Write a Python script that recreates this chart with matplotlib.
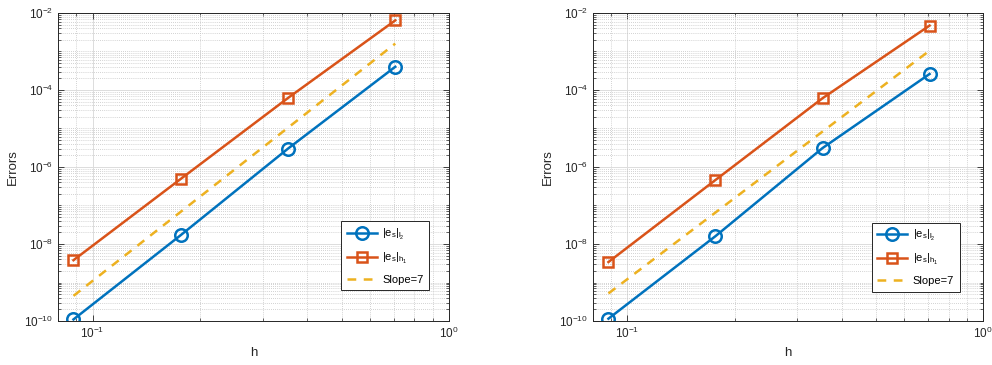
import numpy as np
import matplotlib
matplotlib.use("Agg")
import matplotlib.pyplot as plt
from matplotlib.ticker import LogLocator, FixedLocator, NullFormatter, LogFormatterMathtext

plt.rcParams['font.family'] = ['Liberation Sans', 'DejaVu Sans']
plt.rcParams['mathtext.fontset'] = 'custom'
plt.rcParams['mathtext.rm'] = 'Liberation Sans'
plt.rcParams['mathtext.it'] = 'Liberation Sans'

# Data
h = [0.0884, 0.1768, 0.3536, 0.7071]
left_l2 = [1.1e-10, 1.7e-8, 3.0e-6, 4.0e-4]
left_h1 = [3.8e-9, 4.9e-7, 6.2e-5, 6.4e-3]
left_slope_h = [0.0884, 0.7071]
left_slope = [4.5e-10, 1.6e-3]

right_l2 = [1.15e-10, 1.6e-8, 3.1e-6, 2.6e-4]
right_h1 = [3.4e-9, 4.6e-7, 6.1e-5, 4.7e-3]
right_slope_h = [0.0884, 0.7071]
right_slope = [5.2e-10, 1.05e-3]

labels = [r'$|e_s|_{l_2}$', r'$|e_s|_{h_1}$', 'Slope=7']
yticks = [1e-10, 1e-8, 1e-6, 1e-4, 1e-2]
xticks = [1e-1, 1e0]

c_blue = '#0072BD'
c_orange = '#D95319'
c_yellow = '#EDB120'

fig = plt.figure(figsize=(9.92, 3.65), dpi=100)
ax1 = fig.add_axes([0.0585, 0.1205, 0.394, 0.8440])
ax2 = fig.add_axes([0.5978, 0.1205, 0.3932, 0.8440])

def draw(ax, l2, h1, sh, sv, anchor):
    ax.plot(h, l2, '-o', color=c_blue, lw=1.8, ms=9, mfc='none', mew=1.8, label=labels[0])
    ax.plot(h, h1, '-s', color=c_orange, lw=1.8, ms=7.5, mfc='none', mew=1.8, label=labels[1])
    ax.plot(sh, sv, '--', color=c_yellow, lw=1.8, dashes=(3.5, 3), label=labels[2])
    ax.set_xscale('log')
    ax.set_yscale('log')
    ax.set_xlim(0.08, 1.0)
    ax.set_ylim(1e-10, 1e-2)
    ax.yaxis.set_major_locator(FixedLocator(yticks))
    ax.xaxis.set_major_locator(FixedLocator(xticks))
    ax.yaxis.set_major_formatter(LogFormatterMathtext())
    ax.xaxis.set_major_formatter(LogFormatterMathtext())
    ax.xaxis.set_minor_locator(LogLocator(base=10, subs=np.arange(2, 10), numticks=20))
    ymin = [m * 10.0**e for e in range(-10, -2) for m in range(1, 10)]
    ymin = [v for v in ymin if v not in yticks]
    ax.yaxis.set_minor_locator(FixedLocator(ymin))
    ax.xaxis.set_minor_formatter(NullFormatter())
    ax.yaxis.set_minor_formatter(NullFormatter())
    ax.grid(True, which='major', color='#dcdcdc', lw=0.7, ls='-')
    ax.grid(True, which='minor', color='#c4c4c4', lw=0.6, ls=(0, (1, 1.5)))
    ax.set_axisbelow(True)
    ax.tick_params(which='both', direction='in', top=True, right=True, colors='#262626', labelsize=8.5)
    ax.tick_params(which='major', length=4, width=0.6)
    ax.tick_params(which='minor', length=2, width=0.5)
    for sp in ax.spines.values():
        sp.set_color('#262626')
        sp.set_linewidth(0.7)
    ax.set_xlabel('h', fontsize=9.5, color='#262626')
    ax.set_ylabel('Errors', fontsize=9.5, color='#262626')
    leg = ax.legend(loc='lower right', bbox_to_anchor=anchor, borderaxespad=0,
                    fontsize=8, fancybox=False, framealpha=1, edgecolor='#262626',
                    handlelength=2.7, handletextpad=0.5, labelspacing=0.8,
                    borderpad=0.5)
    leg.get_frame().set_linewidth(0.7)

draw(ax1, left_l2, left_h1, left_slope_h, left_slope, (0.949, 0.10))
draw(ax2, right_l2, right_h1, right_slope_h, right_slope, (0.94, 0.095))

fig.savefig('out.png', dpi=100)
